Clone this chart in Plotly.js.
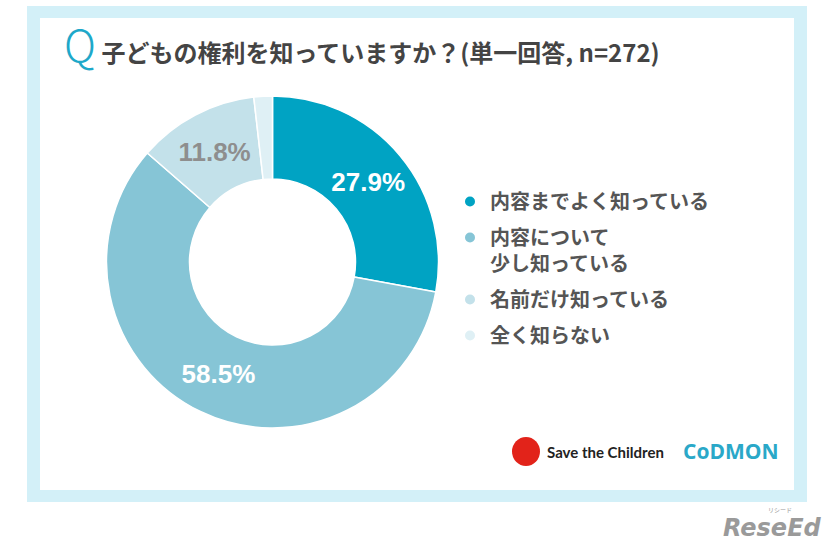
<!DOCTYPE html>
<html>
<head>
<meta charset="utf-8">
<script src="https://cdn.plot.ly/plotly-3.0.1.min.js"></script>
<style>
  html, body { margin: 0; padding: 0; background: #ffffff; }
  #chart { width: 826px; height: 546px; }
</style>
</head>
<body>
<div id="chart"></div>
<script>
// answers to "子どもの権利を知っていますか？" (n=272)
var answerLabels = ['内容までよく知っている', '内容について<br>少し知っている', '名前だけ知っている', '全く知らない'];
var answerShares = [27.9, 58.5, 11.8, 1.8];
var sliceColors = ['#00a3c3', '#86c5d6', '#c3e1ea', '#dff0f5'];
var labelColors = ['#ffffff', '#ffffff', '#8e8e8e', '#ffffff'];
var showLabel = [true, true, true, false];

var W = 826, H = 546;
function px(x) { return x / W; }
function py(y) { return 1 - y / H; }

var jp = '"Noto Sans CJK JP", "Noto Sans", sans-serif';

var donut = {
    type: 'pie',
    labels: answerLabels,
    values: answerShares,
    sort: false,
    direction: 'clockwise',
    rotation: 0,
    hole: 0.5,
    marker: { colors: sliceColors, line: { color: '#ffffff', width: 1.5 } },
    texttemplate: showLabel.map(function (s) { return s ? '%{value:.1f}%' : ''; }),
    textposition: 'inside',
    insidetextorientation: 'horizontal',
    insidetextfont: { family: '"Liberation Sans", Arial, sans-serif', size: 26, color: labelColors, weight: 'bold' },
    showlegend: false,
    hoverinfo: 'label+percent',
    domain: { x: [px(106.5), px(438.5)], y: [py(428), py(96)] }
};

// legend entries with round markers
var legendTraces = answerLabels.map(function (name, i) {
    return {
        type: 'scatter',
        mode: 'markers',
        x: [null],
        y: [null],
        name: name,
        legendgroup: 'g' + i,
        marker: { color: sliceColors[i], size: 10 },
        hoverinfo: 'skip'
    };
});

var layout = {
    width: W,
    height: H,
    margin: { l: 0, r: 0, t: 0, b: 0 },
    paper_bgcolor: '#ffffff',
    plot_bgcolor: 'rgba(0,0,0,0)',
    xaxis: { visible: false, domain: [0.9, 1] },
    yaxis: { visible: false, domain: [0.9, 1] },
    title: {
        text: '<span style="font-size:44px;color:#1ea8c9;font-weight:300">Q</span> 子どもの権利を知っていますか？(単一回答, n=272)',
        x: px(64),
        xanchor: 'left',
        y: py(54),
        yanchor: 'middle',
        font: { family: jp, size: 24, color: '#444444', weight: 'bold' }
    },
    showlegend: true,
    legend: {
        x: px(450),
        y: py(182),
        xanchor: 'left',
        yanchor: 'top',
        valign: 'top',
        tracegroupgap: 7,
        bgcolor: 'rgba(0,0,0,0)',
        font: { family: jp, size: 20, color: '#555555', weight: 'bold' }
    },
    shapes: [
        { type: 'rect', xref: 'paper', yref: 'paper', layer: 'below',
          x0: px(27), x1: px(807), y0: py(502), y1: py(6),
          fillcolor: '#d3f0f8', line: { width: 0 } },
        { type: 'rect', xref: 'paper', yref: 'paper', layer: 'below',
          x0: px(40), x1: px(794), y0: py(490), y1: py(18),
          fillcolor: '#ffffff', line: { width: 0 } },
        { type: 'circle', xref: 'paper', yref: 'paper', layer: 'below',
          x0: px(512), x1: px(540), y0: py(466), y1: py(437),
          fillcolor: '#e2231a', line: { width: 0 } }
    ],
    annotations: [
        { text: '<b>Save the Children</b>', xref: 'paper', yref: 'paper',
          x: px(545), y: py(452), xanchor: 'left', yanchor: 'middle', showarrow: false,
          font: { family: '"Lato", "Open Sans", sans-serif', size: 15, color: '#222222' } },
        { text: '<b>CoDMON</b>', xref: 'paper', yref: 'paper',
          x: px(681), y: py(451), xanchor: 'left', yanchor: 'middle', showarrow: false,
          font: { family: '"Open Sans", sans-serif', size: 21, color: '#2aa8c8' } },
        { text: '<b><i>ReseEd</i></b>', xref: 'paper', yref: 'paper',
          x: px(824), y: py(528), xanchor: 'right', yanchor: 'middle', showarrow: false,
          font: { family: '"DejaVu Sans", sans-serif', size: 24, color: '#9a9a9a' } },
        { text: 'リシード', xref: 'paper', yref: 'paper',
          x: px(780), y: py(509), xanchor: 'center', yanchor: 'middle', showarrow: false,
          font: { family: jp, size: 6, color: '#9a9a9a' } }
    ]
};

Plotly.newPlot('chart', [donut].concat(legendTraces), layout, { displayModeBar: false, staticPlot: true });
</script>
</body>
</html>
